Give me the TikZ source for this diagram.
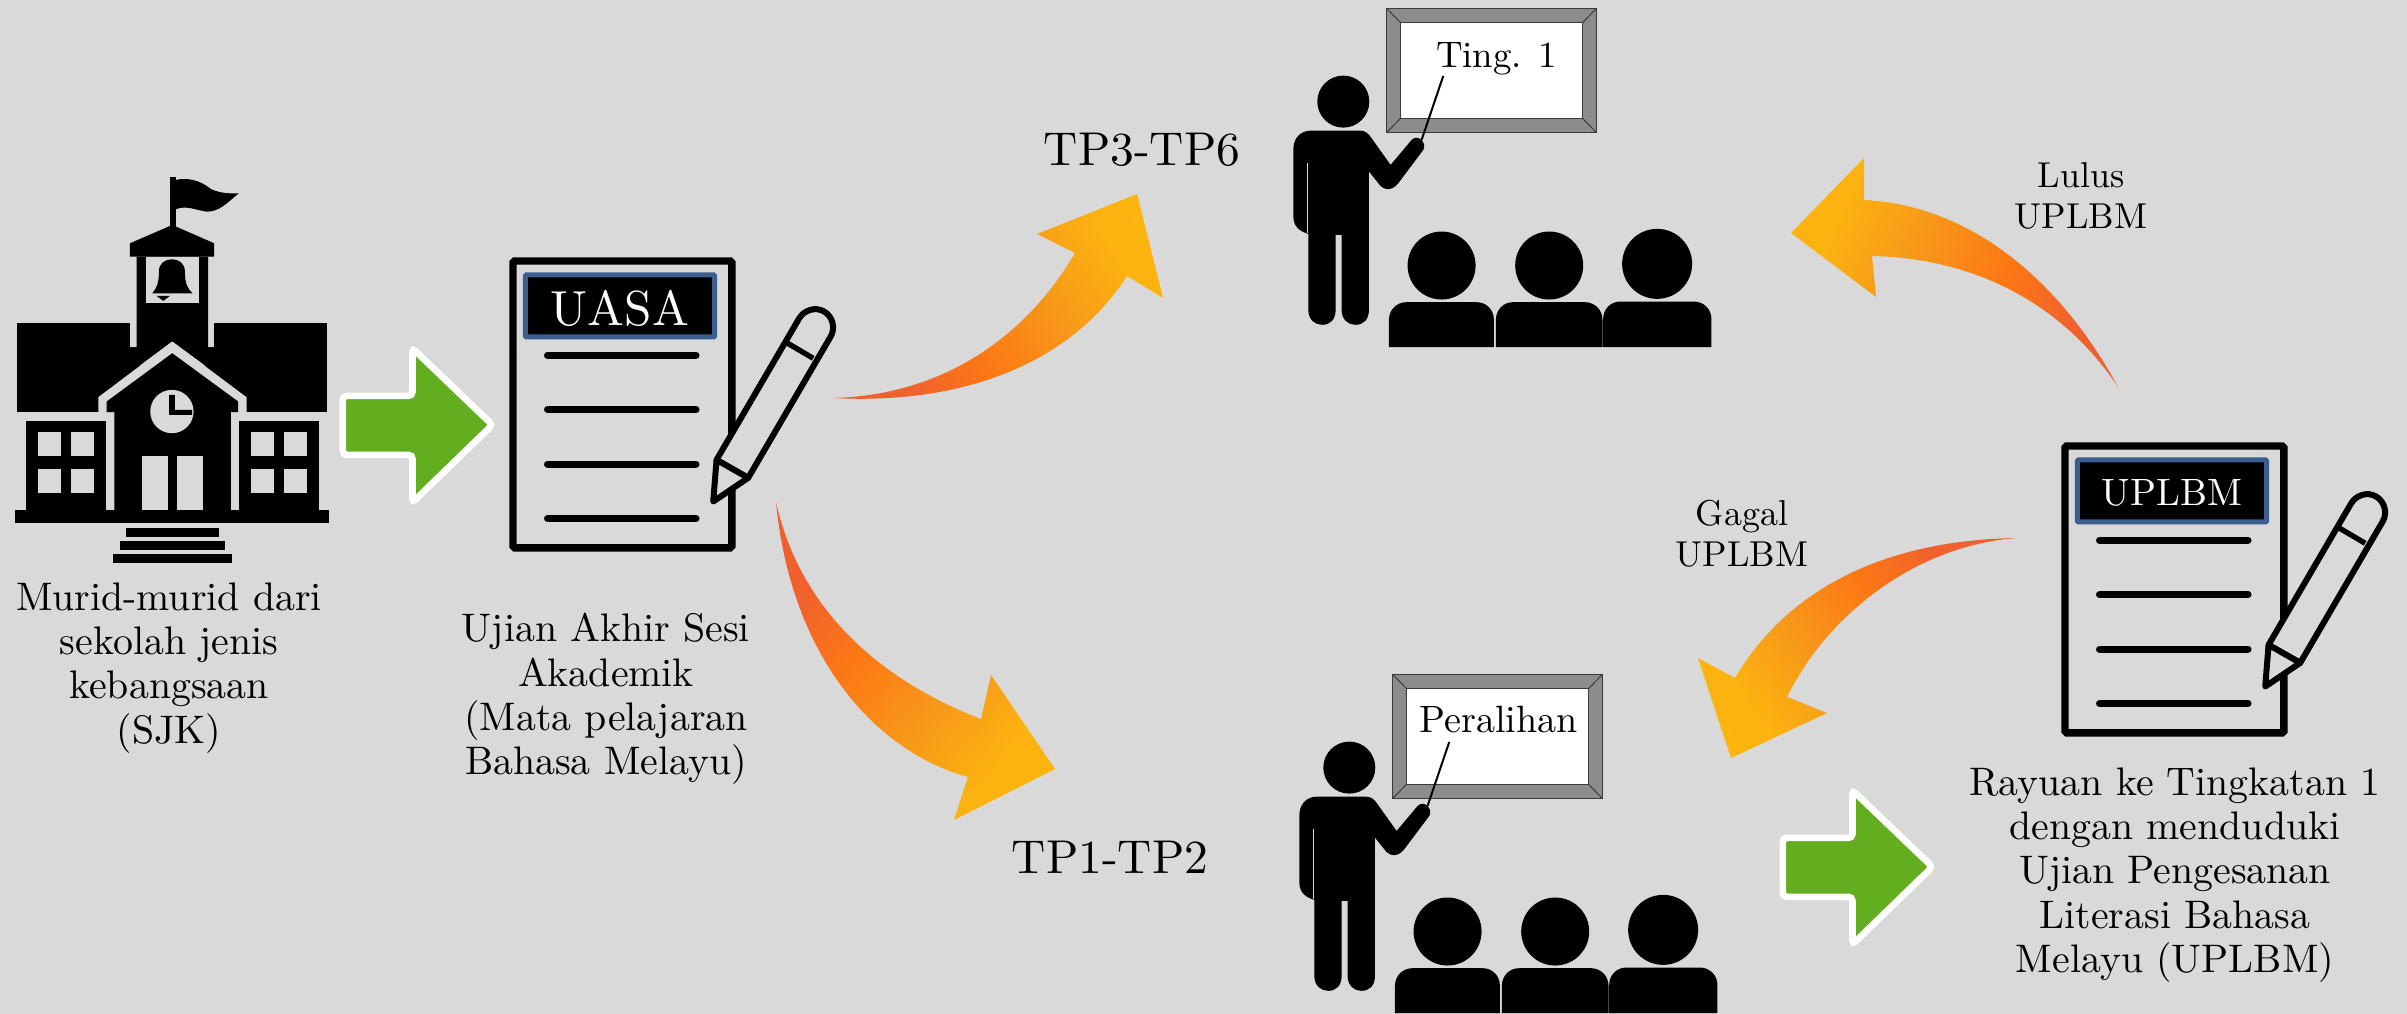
\documentclass[tikz,border=0pt]{standalone}
\definecolor{bgc}{HTML}{D9D9D9}
\definecolor{grn}{HTML}{62AE1E}
\definecolor{titleblue}{HTML}{3A5F8E}
\definecolor{framegray}{HTML}{8C8C8C}
\definecolor{framedark}{HTML}{3A3A3A}
\pgfdeclarehorizontalshading{flame}{100bp}{
  rgb(0bp)=(0.93,0.36,0.20);
  rgb(28bp)=(0.94,0.38,0.18);
  rgb(42bp)=(0.99,0.47,0.08);
  rgb(58bp)=(0.97,0.60,0.10);
  rgb(72bp)=(0.99,0.70,0.06);
  rgb(100bp)=(0.99,0.72,0.06)}
\tikzset{
  flamearrow/.style={shading=flame,shading angle=#1},
  greenarrow/.style={fill=grn,draw=white,line width=.2cm,rounded corners=.12cm},
  label/.style={align=center,inner sep=0pt,scale=3.4,font=\fontsize{10}{11.1}\selectfont},
  smalllabel/.style={align=center,inner sep=0pt,scale=3.07,font=\fontsize{10}{11.5}\selectfont},
  biglabel/.style={inner sep=0pt,scale=4.05},
  pics/teacher/.style n args={4}{code={
    \begin{scope}[x=.01cm,y=-.01cm]
      \fill[framegray,draw=framedark,line width=.04cm] (350,25) rectangle (980,398);
      \draw[framedark,line width=.03cm] (350,25)--(392,68) (980,25)--(938,68) (350,398)--(392,355) (980,398)--(938,355);
      \fill[white,draw=framedark,line width=.04cm] (392,68) rectangle (938,355);
      \node[inner sep=0pt,scale=#4] (-lab) at (#2,#3) {#1};
      \fill (220,305) circle[radius=.78cm];
      \fill (70,650) .. controls (70,680) and (90,695) .. (115,702) -- (115,930)
        .. controls (115,960) and (135,975) .. (157,975) .. controls (180,975) and (197,960) .. (197,930)
        -- (197,705) -- (215,705) -- (215,930)
        .. controls (215,960) and (235,975) .. (256,975) .. controls (280,975) and (297,960) .. (297,930)
        -- (297,515) -- (325,550) .. controls (340,572) and (365,575) .. (385,550)
        -- (460,450) .. controls (472,430) and (445,400) .. (425,420) -- (362,495) -- (305,415)
        .. controls (295,400) and (285,392) .. (270,392) -- (125,392)
        .. controls (90,392) and (70,415) .. (70,450) -- cycle;
      \draw[bgc,line width=.03cm] (113,490)--(113,700);
      \draw[line width=.06cm] (520,228)--(455,420);
      \fill (515,797) circle[radius=1.02cm];
      \fill (838,797) circle[radius=1.02cm];
      \fill (1162,792) circle[radius=1.05cm];
      \fill (357,1042) -- (357,960) .. controls (357,930) and (380,907) .. (410,907) -- (620,907)
        .. controls (650,907) and (672,930) .. (672,960) -- (672,1042) -- cycle;
      \fill (678,1042) -- (678,960) .. controls (678,930) and (700,907) .. (730,907) -- (945,907)
        .. controls (975,907) and (998,930) .. (998,960) -- (998,1042) -- cycle;
      \fill (1000,1042) -- (1000,958) .. controls (1000,928) and (1022,905) .. (1052,905) -- (1272,905)
        .. controls (1302,905) and (1325,928) .. (1325,958) -- (1325,1042) -- cycle;
    \end{scope}
  }},
  pics/examdoc/.style n args={2}{code={
    \begin{scope}[x=.01cm,y=-.01cm]
      \draw[line width=.22cm,rounded corners=.05cm] (99,63) rectangle (756,924);
      \fill[black,draw=titleblue,line width=.15cm,rounded corners=.03cm] (136,105) rectangle (704,291);
      \node[text=white,inner sep=0pt,scale=#2] (-title) at (420,204) {#1};
      \draw[line width=.22cm,line cap=round] (203,346)--(648,346) (203,509)--(648,509) (203,673)--(648,673) (203,836)--(648,836);
      \draw[fill=bgc,line width=.18cm,line join=round] (710,660) -- (957.5,236)
        .. controls (972.6,210) and (1006.8,199.4) .. (1032.7,214.5)
        .. controls (1058.6,229.6) and (1067.6,264) .. (1052.5,290)
        -- (805,714) -- cycle;
      \draw[line width=.16cm] (915,305)--(1000,355);
      \draw[fill=bgc,line width=.18cm,line join=round] (710,660) -- (700,785) -- (805,714) -- cycle;
    \end{scope}
  }},
  pics/bigarrow/.style={code={
    \begin{scope}[x=.01cm,y=-.01cm]
      \draw[greenarrow] (1029,708)--(1238,708)--(1238,565)--(1478,795)--(1238,1028)--(1238,885)--(1029,885)--cycle;
    \end{scope}
  }}
}
\begin{document}
\begin{tikzpicture}[x=.03cm,y=-.03cm]
\fill[bgc] (0,0) rectangle (2407,1014);
\useasboundingbox (0,0) rectangle (2407,1014);

% school
\begin{scope}[shift={(0,160)},x=.01cm,y=-.01cm]
  \fill (52,490) rectangle (982,757);
  \fill[bgc] (295,757)--(295,712)--(517,545)--(740,712)--(740,757)--cycle;
  \fill[bgc] (390,490) rectangle (410,562);
  \fill[bgc] (625,490) rectangle (643,562);
  \fill (410,290) -- (410,562) -- (430,562) -- (517,545) -- (605,562) -- (625,562) -- (625,290) -- cycle;
  \fill[bgc] (517,545)--(420,617)--(615,617)--cycle;
  \fill[bgc] (437,290) rectangle (598,428);
  \fill (457,400) .. controls (470,385) and (477,370) .. (477,335)
     .. controls (477,310) and (495,298) .. (516,298)
     .. controls (537,298) and (555,310) .. (555,335)
     .. controls (555,370) and (562,385) .. (578,400) -- cycle;
  \fill (470,408) -- (510,408) -- (490,423) -- cycle;
  \fill (510,50) rectangle (527,200);
  \fill (527,60) .. controls (560,52) and (600,60) .. (630,85) .. controls (650,98) and (690,102) .. (717,100)
     .. controls (690,120) and (660,157) .. (620,155) .. controls (585,150) and (560,135) .. (527,148) -- cycle;
  \fill (390,250)--(517,195)--(643,250)--(643,290)--(390,290)--cycle;
  \fill (320,757)--(320,725)--(517,580)--(715,725)--(715,757)--(693,757)--(693,1060)--(343,1060)--(343,757)--cycle;
  \fill (78,783) rectangle (318,1060);
  \fill (717,783) rectangle (957,1060);
  \fill (45,1050) rectangle (988,1090);
  \foreach \wx in {115,213,753,852}{
    \foreach \wy in {817,927}{
      \fill[bgc] (\wx,\wy) rectangle ++(69,72);
    }
  }
  \fill[bgc] (427,888) rectangle (505,1050);
  \fill[bgc] (530,888) rectangle (608,1050);
  \fill[bgc] (516,755) circle[radius=.65cm];
  \fill (508,705)--(525,705)--(525,750)--(577,750)--(577,765)--(508,765)--cycle;
  \fill (378,1105) rectangle (657,1133);
  \fill (360,1143) rectangle (675,1170);
  \fill (338,1182) rectangle (697,1210);
\end{scope}

% green arrows
\path (0,160) pic (ga1) {bigarrow};
\path (1440,602) pic (ga2) {bigarrow};

% exam documents
\path (480,240) pic (uasa) {examdoc={UASA}{4.2}};
\path (2032,425) pic (uplbm) {examdoc={UPLBM}{3.25}};

% teachers
\path (1270,0) pic (ting) {teacher={Ting. 1}{680}{178}{3.15}};
\path (1276,666) pic (peralihan) {teacher={Peralihan}{668}{162}{3.25}};

% curved arrows
\shade[flamearrow=32] (833,398) .. controls (950,395) and (1030,330) .. (1075,253)
  -- (1037,234) -- (1137,194) -- (1163,298) -- (1127,276)
  .. controls (1070,365) and (960,405) .. (833,398) -- cycle;
\shade[flamearrow=-40] (776,502) .. controls (800,610) and (880,680) .. (981,719)
  -- (991,675) -- (1055,769) -- (954,820) -- (968,777)
  .. controls (870,750) and (790,650) .. (776,502) -- cycle;
\shade[flamearrow=155] (2118,387) .. controls (2060,280) and (1970,205) .. (1864,200)
  -- (1864,158) -- (1791,233) -- (1876,297) -- (1872,256)
  .. controls (1970,258) and (2060,300) .. (2118,387) -- cycle;
\shade[flamearrow=218] (2017,538) .. controls (1920,545) and (1830,610) .. (1787,697)
  -- (1827,713) -- (1731,758) -- (1698,658) -- (1735,678)
  .. controls (1790,585) and (1890,540) .. (2017,538) -- cycle;

% labels
\node[label] (murid) at (169,668) {Murid-murid dari\\sekolah jenis\\kebangsaan\\(SJK)};
\node[label] (ujian) at (606,699) {Ujian Akhir Sesi\\Akademik\\(Mata pelajaran\\Bahasa Melayu)};
\node[biglabel] (tpa) at (1142,150) {TP3-TP6};
\node[biglabel] (tpb) at (1110,857) {TP1-TP2};
\node[smalllabel] (lulus) at (2081,196) {Lulus\\UPLBM};
\node[smalllabel] (gagal) at (1742,534) {Gagal\\UPLBM};
\node[label] (rayuan) at (2175,875) {Rayuan ke Tingkatan 1\\dengan menduduki\\Ujian Pengesanan\\Literasi Bahasa\\Melayu (UPLBM)};
\end{tikzpicture}
\end{document}
